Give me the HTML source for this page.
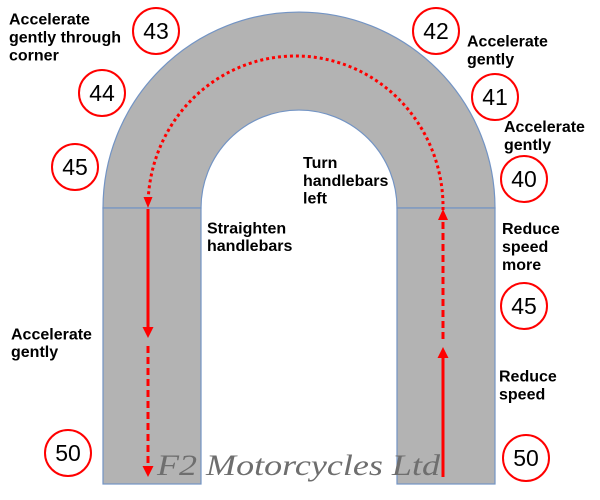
<!DOCTYPE html>
<html><head><meta charset="utf-8"><style>
html,body{margin:0;padding:0;background:#fff;width:600px;height:500px;overflow:hidden}
svg{display:block}
.l{font-family:"Liberation Sans",Arial,sans-serif;font-weight:bold;font-size:16px;fill:#000}
.n{font-family:"Liberation Sans",Arial,sans-serif;font-size:23px;fill:#000;text-anchor:middle}
</style></head><body>
<svg width="600" height="500" viewBox="0 0 600 500" xmlns="http://www.w3.org/2000/svg">
<g fill="#b3b3b3" stroke="#7394c4" stroke-width="1.2">
<path d="M103,208 A196,196 0 0 1 495,208 L397,208 A98,98 0 0 0 201,208 Z"/>
<rect x="103" y="208" width="98" height="276"/>
<rect x="397" y="208" width="98" height="276"/>
</g>
<text x="157" y="475" textLength="283" lengthAdjust="spacingAndGlyphs" font-family="Liberation Serif, serif" font-style="italic" font-size="30" fill="#6e6e6e">F2 Motorcycles Ltd</text>
<g stroke="#ff0000" fill="none" stroke-width="3">
<path d="M443,210 A147.5,151 0 0 0 148,204" stroke-dasharray="3,3"/>
<line x1="148" y1="209" x2="148" y2="328"/>
<line x1="148" y1="346" x2="148" y2="468" stroke-dasharray="7,4"/>
<line x1="443" y1="477" x2="443" y2="357"/>
<line x1="443" y1="339" x2="443" y2="220" stroke-dasharray="7,4"/>
</g>
<g fill="#ff0000">
<polygon points="143.5,197 152.5,197 148,208"/>
<polygon points="142.5,327 153.5,327 148,338"/>
<polygon points="142.5,466 153.5,466 148,477"/>
<polygon points="437.5,358 448.5,358 443,347"/>
<polygon points="438,220 448,220 443,209"/>
</g>
<g fill="#fff" stroke="#ff0000" stroke-width="2">
<circle cx="156" cy="31" r="23"/>
<circle cx="102" cy="93" r="23"/>
<circle cx="75" cy="167" r="23"/>
<circle cx="436" cy="31" r="23"/>
<circle cx="495" cy="97" r="23"/>
<circle cx="524" cy="179" r="23"/>
<circle cx="524" cy="306" r="23"/>
<circle cx="526" cy="458" r="23"/>
<circle cx="68" cy="453" r="23"/>
</g>
<g class="n">
<text x="156" y="39">43</text>
<text x="102" y="101">44</text>
<text x="75" y="175">45</text>
<text x="436" y="39">42</text>
<text x="495" y="105">41</text>
<text x="524" y="187">40</text>
<text x="524" y="314">45</text>
<text x="526" y="466">50</text>
<text x="68" y="461">50</text>
</g>
<g class="l">
<text x="9" y="24.5">Accelerate</text>
<text x="9" y="42.5">gently through</text>
<text x="9" y="60.5">corner</text>
<text x="467" y="46.5">Accelerate</text>
<text x="467" y="64.5">gently</text>
<text x="504" y="132">Accelerate</text>
<text x="504" y="150">gently</text>
<text x="303" y="168">Turn</text>
<text x="303" y="186">handlebars</text>
<text x="303" y="203.5">left</text>
<text x="207" y="233.5">Straighten</text>
<text x="207" y="251">handlebars</text>
<text x="502" y="234">Reduce</text>
<text x="502" y="252">speed</text>
<text x="502" y="270">more</text>
<text x="11" y="339.5">Accelerate</text>
<text x="11" y="357">gently</text>
<text x="499" y="381.5">Reduce</text>
<text x="499" y="399.5">speed</text>
</g>
</svg>
</body></html>
